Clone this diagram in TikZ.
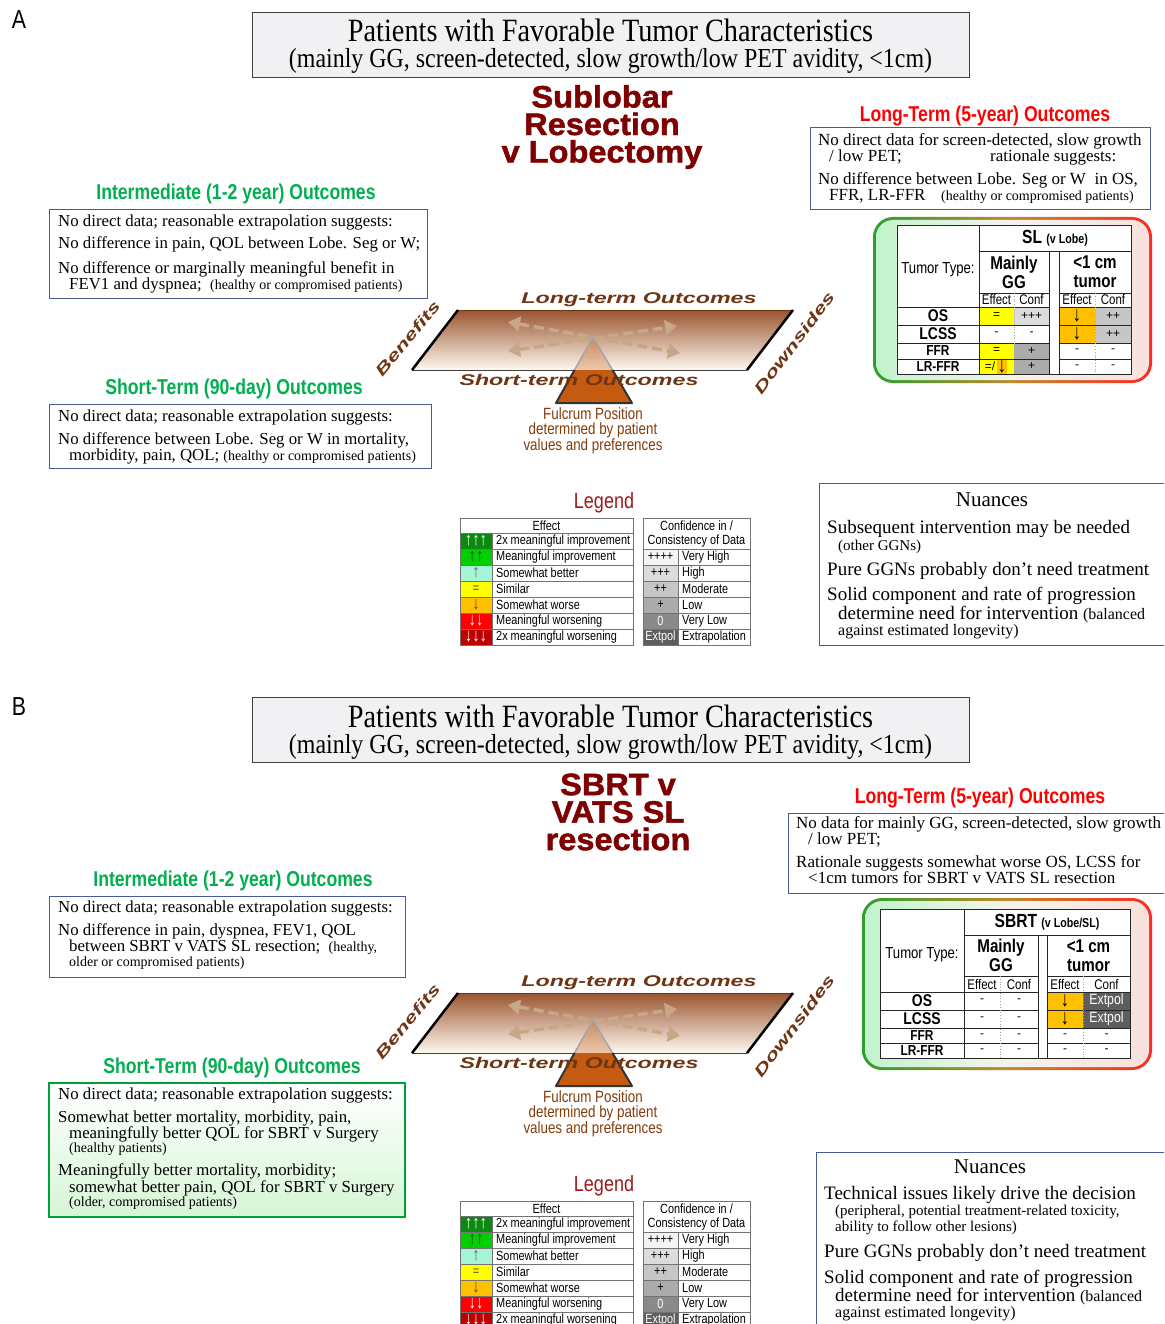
\documentclass[tikz,border=0pt]{standalone}
\usepackage{fontspec}
\setmainfont{Liberation Serif}
\newfontfamily\nsans[FakeStretch=0.82]{Liberation Sans}
\newfontfamily\wsans[FakeStretch=1.5]{Liberation Sans}
\newfontfamily\hsans[FakeBold=1.5,FakeStretch=1.05]{Liberation Sans}
\newfontfamily\asans{Liberation Sans}
\newfontfamily\cserif[FakeStretch=0.87]{Liberation Serif}
\usetikzlibrary{arrows.meta}
\newcommand\fsz[1]{\fontsize{#1}{#1}\selectfont}
\newcommand\smt[1]{{\fsz{14}#1}}
\definecolor{boxblue}{HTML}{4A5A98}
\definecolor{dred}{HTML}{7F0000}
\definecolor{hgreen}{HTML}{00B050}
\definecolor{hred}{HTML}{FF0000}
\definecolor{brownt}{HTML}{6E3514}
\definecolor{fulc}{HTML}{C55A11}
\definecolor{fultext}{HTML}{843C0C}
\definecolor{legred}{HTML}{9E1B1B}
\definecolor{plankt}{HTML}{9A5530}
\definecolor{plankm}{HTML}{EBC2A0}
\definecolor{plankb}{HTML}{FFF9F0}
\definecolor{arrc}{HTML}{C8A688}
\definecolor{titlefill}{HTML}{F1F1F3}
\definecolor{eA}{HTML}{0B8A12}
\definecolor{eB}{HTML}{00D000}
\definecolor{eC}{HTML}{A6F5D6}
\definecolor{eD}{HTML}{FFFF00}
\definecolor{eE}{HTML}{FFC000}
\definecolor{eF}{HTML}{FF0000}
\definecolor{eG}{HTML}{C00000}
\definecolor{cA}{HTML}{F4F4F4}
\definecolor{cB}{HTML}{DCDCDC}
\definecolor{cC}{HTML}{C6C6C6}
\definecolor{cD}{HTML}{ABABAB}
\definecolor{cE}{HTML}{8A8A8A}
\definecolor{cF}{HTML}{5E5E5E}
\definecolor{tgreen}{HTML}{2E9E2E}
\definecolor{tmid}{HTML}{C08A2A}
\definecolor{tred}{HTML}{FF2A20}
\definecolor{lgreen}{HTML}{C2F3CC}
\definecolor{lmid}{HTML}{F4F4EC}
\definecolor{lpink}{HTML}{F8E0DC}
\definecolor{sgreen}{HTML}{00A03C}
\definecolor{sfill}{HTML}{D6F5D6}
\tikzset{
 txt/.style={anchor=base west, inner sep=0pt, font=\fsz{17}},
 ctr/.style={anchor=center, inner sep=0pt},
 tbox/.style={draw=boxblue, line width=1pt},
 heading/.style={inner sep=0pt, font=\nsans\bfseries\fsz{21.5}},
 grid/.style={draw=black!85, line width=0.9pt},
 dotgrid/.style={draw=black!35, line width=0.8pt, dotted},
 lgrid/.style={draw=black!55, line width=0.8pt},
 ttxt/.style={inner sep=0pt, font=\nsans\fsz{13.3}},
 tarr/.style={inner sep=0pt, font=\nsans\fsz{18}},
 ltxt/.style={anchor=west, inner sep=0pt, font=\nsans\fsz{13.3}},
 ctxt/.style={inner sep=0pt, font=\asans\fsz{12}},
 carr/.style={inner sep=0pt, font=\nsans\fsz{21}},
 rlab/.style={inner sep=0pt, font=\nsans\bfseries\fsz{17}},
 rlabs/.style={inner sep=0pt, font=\nsans\bfseries\fsz{14.5}},
 sub/.style={inner sep=0pt, font=\nsans\fsz{14}},
 darr/.style={draw=arrc, line width=3.5pt, dash pattern=on 10pt off 5pt, {Triangle[length=12pt,width=15pt]}-{Triangle[length=12pt,width=15pt]}},
 seelab/.style={inner sep=0pt, text=brownt, font=\wsans\bfseries\itshape\fsz{15.5}},
}
\newcommand\txl[4][]{\node[txt,#1] (#2) at #3 {#4};}
\newcommand\gridtable{%
 \draw[grid] (\xa,\ya) rectangle (\xg,\yh);
 \draw[grid] (\xb,\ya) -- (\xb,\yh);
 \draw[grid] (\xb,\yb) -- (\xg,\yb);
 \draw[grid] (\xd,\yb) -- (\xd,\yh) (\xe,\yb) -- (\xe,\yh);
 \draw[grid] (\xb,\yc) -- (\xd,\yc) (\xe,\yc) -- (\xg,\yc);
 \foreach \rr in {\yd,\ye,\yf,\yg} {\draw[grid] (\xa,\rr) -- (\xd,\rr) (\xe,\rr) -- (\xg,\rr);}
 \draw[dotgrid] (\xc,\yc) -- (\xc,\yh) (\xf,\yc) -- (\xf,\yh);
}
\newcommand\seesaw[1]{%
 \shade[top color=plankt, middle color=plankm, bottom color=plankb] (458,310) -- (793,310) -- (747,370) -- (412,370) -- cycle;
 \draw[draw=brownt, line width=0.8pt] (458,310) -- (793,310);
 \draw[draw=black!75, line width=0.8pt] (412,370) -- (747,370);
 \draw[draw=black, line width=2.5pt] (458,310) -- (412,370) (793,310) -- (747,370);
 \draw[darr] (508,322) -- (680,353);
 \draw[darr] (508,351) -- (677,326);
 \fill[fulc, opacity=0.3] (593,337) -- (574.5,370) -- (612.5,370) -- cycle;
 \draw[draw=black!35, line width=1.5pt] (574.5,370) -- (593,337) -- (612.5,370);
 \fill[fulc] (574.5,370) -- (556,403) -- (632,403) -- (612.5,370) -- cycle;
 \draw[draw=black!80, line width=2pt, line join=round] (574.5,370) -- (556,403) -- (632,403) -- (612.5,370);
 \node[seelab] (#1lt) at (639,300) {Long-term Outcomes};
 \node[seelab] (#1st) at (579,380) {Short-term Outcomes};
 \node[seelab, rotate=50] (#1ben) at (407.5,338.5) {Benefits};
 \node[seelab, rotate=53] (#1down) at (794,343) {Downsides};
 \node[inner sep=0pt, align=center, text=fultext, font=\nsans\fontsize{16.3}{15}\selectfont] (#1ful) at (593,431) {Fulcrum Position\\determined by patient\\values and preferences};
}
\newcommand\legendtable[1]{%
 \node[inner sep=0pt, text=legred, font=\nsans\fsz{22}] (#1leg) at (604,503) {Legend};
 \fill[eA] (460,533) rectangle (492,549);
 \fill[eB] (460,549) rectangle (492,565);
 \fill[eC] (460,565) rectangle (492,581);
 \fill[eD] (460,581) rectangle (492,597);
 \fill[eE] (460,597) rectangle (492,613);
 \fill[eF] (460,613) rectangle (492,629);
 \fill[eG] (460,629) rectangle (492,645);
 \fill[cA] (643,549) rectangle (678,565);
 \fill[cB] (643,565) rectangle (678,581);
 \fill[cC] (643,581) rectangle (678,597);
 \fill[cD] (643,597) rectangle (678,613);
 \fill[cE] (643,613) rectangle (678,629);
 \fill[cF] (643,629) rectangle (678,645);
 \draw[lgrid] (460,518) rectangle (633,645);
 \draw[lgrid] (492,533) -- (492,645);
 \foreach \yy in {533,549,...,629} {\draw[lgrid] (460,\yy) -- (633,\yy);}
 \draw[lgrid] (643,518) rectangle (750,645);
 \draw[lgrid] (678,549) -- (678,645);
 \foreach \yy in {549,565,...,629} {\draw[lgrid] (643,\yy) -- (750,\yy);}
 \node[ttxt] (#1eh) at (546.5,525.5) {Effect};
 \node[ttxt] (#1ch1) at (696.5,526) {Confidence in /};
 \node[ttxt] (#1ch2) at (696.5,541) {Consistency of Data};
 \node[tarr, text=white] (#1s1) at (476,541) {↑↑↑};
 \node[tarr, text=black!80] (#1s2) at (476,557) {↑↑};
 \node[tarr, text=black!60] (#1s3) at (476,573) {↑};
 \node[ttxt, text=black!70] (#1s4) at (476,589) {=};
 \node[tarr, text=black!70] (#1s5) at (476,605) {↓};
 \node[tarr, text=white] (#1s6) at (476,621) {↓↓};
 \node[tarr, text=white] (#1s7) at (476,637) {↓↓↓};
 \node[ltxt] (#1t1) at (496,541) {2x meaningful improvement};
 \node[ltxt] (#1t2) at (496,557) {Meaningful improvement};
 \node[ltxt] (#1t3) at (496,573) {Somewhat better};
 \node[ltxt] (#1t4) at (496,589) {Similar};
 \node[ltxt] (#1t5) at (496,605) {Somewhat worse};
 \node[ltxt] (#1t6) at (496,621) {Meaningful worsening};
 \node[ltxt] (#1t7) at (496,637) {2x meaningful worsening};
 \node[ttxt] (#1c1) at (660.5,557) {++++};
 \node[ttxt] (#1c2) at (660.5,573) {+++};
 \node[ttxt] (#1c3) at (660.5,589) {++};
 \node[ttxt] (#1c4) at (660.5,605) {+};
 \node[ttxt, text=white] (#1c5) at (660.5,621) {0};
 \node[ttxt, text=white] (#1c6) at (660.5,637) {Extpol};
 \node[ltxt] (#1d1) at (682,557) {Very High};
 \node[ltxt] (#1d2) at (682,573) {High};
 \node[ltxt] (#1d3) at (682,589) {Moderate};
 \node[ltxt] (#1d4) at (682,605) {Low};
 \node[ltxt] (#1d5) at (682,621) {Very Low};
 \node[ltxt] (#1d6) at (682,637) {Extrapolation};
}
\begin{document}
\begin{tikzpicture}[x=1pt, y=-1pt]
\useasboundingbox (0,0) rectangle (1164,1324);
\clip (0,0) rectangle (1164,1324);
\fill[white] (0,0) rectangle (1164,1324);

% ================= PANEL A =================
\node[inner sep=0pt, font=\nsans\fsz{26}] (labA) at (19,20) {A};
\node[draw=black!75, fill=titlefill, line width=1pt, minimum width=717pt, minimum height=65pt, anchor=north west, inner sep=0pt] (titA) at (252,12) {};
\node[inner sep=0pt, font=\cserif\fsz{32.5}] (titA1) at (610.5,30) {Patients with Favorable Tumor Characteristics};
\node[inner sep=0pt, font=\cserif\fsz{27.5}] (titA2) at (610.5,61) {(mainly GG, screen-detected, slow growth/low PET avidity, <1cm)};
\node[inner sep=0pt, align=center, text=dred, font=\hsans\bfseries\fontsize{31}{27.5}\selectfont] (hA) at (602,127) {Sublobar\\Resection\\v Lobectomy};

\node[heading, text=hred] (ltA) at (985,116) {Long-Term (5-year) Outcomes};
\draw[tbox] (810,128) rectangle (1150,210);
\txl{lA1}{(818,146)}{No direct data for screen-detected, slow growth}
\txl{lA2}{(829,162)}{/ low PET;}
\txl{lA3}{(990,162)}{rationale suggests:}
\txl{lA4}{(818,185)}{No difference between Lobe. Seg or W\ \ in OS,}
\txl{lA5}{(829,201)}{FFR, LR-FFR}
\txl[font=\fsz{14}]{lA6}{(941,201)}{(healthy or compromised patients)}

\node[heading, text=hgreen] (itA) at (236,194) {Intermediate (1-2 year) Outcomes};
\draw[tbox] (49,210) rectangle (427,298);
\txl[font=\fsz{16.8}]{iA1}{(58,227)}{No direct data; reasonable extrapolation suggests:}
\txl[font=\fsz{16.8}]{iA2}{(58,249)}{No difference in pain, QOL between Lobe. Seg or W;}
\txl[font=\fsz{16.8}]{iA3}{(58,273)}{No difference or marginally meaningful benefit in}
\txl[font=\fsz{16.8}]{iA4}{(69,289)}{FEV1 and dyspnea;\ \ \smt{(healthy or compromised patients)}}

\node[heading, text=hgreen] (stA) at (234,389) {Short-Term (90-day) Outcomes};
\draw[tbox] (49,404) rectangle (431,468);
\txl[font=\fsz{16.8}]{sA1}{(58,421)}{No direct data; reasonable extrapolation suggests:}
\txl[font=\fsz{16.8}]{sA2}{(58,444)}{No difference between Lobe. Seg or W in mortality,}
\txl[font=\fsz{16.8}]{sA3}{(69,460)}{morbidity, pain, QOL; \smt{(healthy or compromised patients)}}

\seesaw{a}

% table A
\shade[rounded corners=20pt, left color=tgreen, right color=tred, middle color=tmid] (873,217) rectangle (1152,383);
\shade[rounded corners=17pt, left color=lgreen, right color=lpink, middle color=lmid] (876,220) rectangle (1149,380);
\fill[white] (897,225) rectangle (1131,374);
\fill[eD] (979,307) rectangle (1014,325);
\fill[cB] (1014,307) rectangle (1049,325);
\fill[eE] (1059,307) rectangle (1095,325);
\fill[cC] (1095,307) rectangle (1131,325);
\fill[eE] (1059,325) rectangle (1095,343);
\fill[cC] (1095,325) rectangle (1131,343);
\fill[eD] (979,343) rectangle (1014,359);
\fill[cD] (1014,343) rectangle (1049,359);
\fill[eD] (979,359) rectangle (1014,374);
\fill[cD] (1014,359) rectangle (1049,374);
\fill[eE] (997,360) rectangle (1007,374);
\def\xa{897}\def\xb{979}\def\xc{1014}\def\xd{1049}\def\xe{1059}\def\xf{1095}\def\xg{1131}
\def\ya{225}\def\yb{251}\def\yc{293}\def\yd{307}\def\ye{325}\def\yf{343}\def\yg{359}\def\yh{374}
\gridtable
\node[inner sep=0pt, font=\nsans\fsz{16}] (aTT) at (938,270) {Tumor Type:};
\node[inner sep=0pt, font=\nsans\bfseries\fsz{19}] (aSL) at (1055,238) {SL {\fsz{13}(v Lobe)}};
\node[inner sep=0pt, align=center, font=\nsans\bfseries\fontsize{18.5}{19}\selectfont] (aGG) at (1014,272) {Mainly\\GG};
\node[inner sep=0pt, align=center, font=\nsans\bfseries\fontsize{18.5}{19}\selectfont] (aCM) at (1095,272) {<1 cm\\tumor};
\node[sub] (aE1) at (996.5,300) {Effect};
\node[sub] (aC1) at (1031.5,300) {Conf};
\node[sub] (aE2) at (1077,300) {Effect};
\node[sub] (aC2) at (1113,300) {Conf};
\node[rlab] (aOS) at (938,316) {OS};
\node[rlab] (aLC) at (938,334) {LCSS};
\node[rlabs] (aFF) at (938,351) {FFR};
\node[rlabs] (aLR) at (938,366.5) {LR-FFR};
\node[ctxt] (a11) at (996.5,316) {=};
\node[ctxt] (a12) at (1031.5,316) {+++};
\node[carr] (a13) at (1077,316) {↓};
\node[ctxt] (a14) at (1113,316) {++};
\node[ctxt] (a21) at (996.5,334) {-};
\node[ctxt] (a22) at (1031.5,334) {-};
\node[carr] (a23) at (1077,334) {↓};
\node[ctxt] (a24) at (1113,334) {++};
\node[ctxt] (a31) at (996.5,351) {=};
\node[ctxt] (a32) at (1031.5,351) {+};
\node[ctxt] (a33) at (1077,351) {-};
\node[ctxt] (a34) at (1113,351) {-};
\node[ctxt] (a41) at (990,366.5) {=/};
\node[carr] (a41b) at (1002,366.5) {↓};
\node[ctxt] (a42) at (1031.5,366.5) {+};
\node[ctxt] (a43) at (1077,366.5) {-};
\node[ctxt] (a44) at (1113,366.5) {-};

\legendtable{a}

\draw[tbox] (819,483) rectangle (1175,645);
\node[inner sep=0pt, font=\fsz{21}] (nA0) at (992,500) {Nuances};
\txl[font=\fsz{19}]{nA1}{(827,533)}{Subsequent intervention may be needed}
\txl[font=\fsz{15}]{nA2}{(838,550)}{(other GGNs)}
\txl[font=\fsz{19}]{nA3}{(827,575)}{Pure GGNs probably don’t need treatment}
\txl[font=\fsz{19}]{nA4}{(827,600)}{Solid component and rate of progression}
\txl[font=\fsz{19}]{nA5}{(838,619)}{determine need for intervention {\fsz{16}(balanced}}
\txl[font=\fsz{16}]{nA6}{(838,635)}{against estimated longevity)}

% ================= PANEL B =================
\node[inner sep=0pt, font=\nsans\fsz{26}] (labB) at (19,707) {B};
\node[draw=black!75, fill=titlefill, line width=1pt, minimum width=717pt, minimum height=65pt, anchor=north west, inner sep=0pt] (titB) at (252,697) {};
\node[inner sep=0pt, font=\cserif\fsz{32.5}] (titB1) at (610.5,716) {Patients with Favorable Tumor Characteristics};
\node[inner sep=0pt, font=\cserif\fsz{27.5}] (titB2) at (610.5,747) {(mainly GG, screen-detected, slow growth/low PET avidity, <1cm)};
\node[inner sep=0pt, align=center, text=dred, font=\hsans\bfseries\fontsize{31}{27.5}\selectfont] (hB) at (618,812) {SBRT v\\VATS SL\\resection};

\node[heading, text=hred] (ltB) at (980,798) {Long-Term (5-year) Outcomes};
\draw[tbox] (788,813) rectangle (1175,893);
\txl{lB1}{(796,828)}{No data for mainly GG, screen-detected, slow growth}
\txl{lB2}{(808,844)}{/ low PET;}
\txl{lB3}{(796,867)}{Rationale suggests somewhat worse OS, LCSS for}
\txl{lB4}{(808,883)}{<1cm tumors for SBRT v VATS SL resection}

\node[heading, text=hgreen] (itB) at (233,881) {Intermediate (1-2 year) Outcomes};
\draw[tbox] (49,896) rectangle (405,977);
\txl[font=\fsz{16.8}]{iB1}{(58,912)}{No direct data; reasonable extrapolation suggests:}
\txl[font=\fsz{16.8}]{iB2}{(58,935)}{No difference in pain, dyspnea, FEV1, QOL}
\txl[font=\fsz{16.8}]{iB3}{(69,951)}{between SBRT v VATS SL resection;\ \ \smt{(healthy,}}
\txl[font=\fsz{14}]{iB4}{(69,966)}{older or compromised patients)}

\node[heading, text=hgreen] (stB) at (232,1068) {Short-Term (90-day) Outcomes};
\shade[top color=white, bottom color=sfill] (49,1083) rectangle (405,1217);
\draw[draw=sgreen, line width=2pt] (49,1083) rectangle (405,1217);
\txl[font=\fsz{16.8}]{sB1}{(58,1099)}{No direct data; reasonable extrapolation suggests:}
\txl[font=\fsz{16.8}]{sB2}{(58,1122)}{Somewhat better mortality, morbidity, pain,}
\txl[font=\fsz{16.8}]{sB3}{(69,1138)}{meaningfully better QOL for SBRT v Surgery}
\txl[font=\fsz{14}]{sB4}{(69,1152)}{(healthy patients)}
\txl[font=\fsz{16.8}]{sB5}{(58,1175)}{Meaningfully better mortality, morbidity;}
\txl[font=\fsz{16.8}]{sB6}{(69,1192)}{somewhat better pain, QOL for SBRT v Surgery}
\txl[font=\fsz{14}]{sB7}{(69,1206)}{(older, compromised patients)}

\begin{scope}[yshift=-683pt]
\seesaw{b}
\legendtable{b}
\end{scope}

% table B
\shade[rounded corners=20pt, left color=tgreen, right color=tred, middle color=tmid] (862,898) rectangle (1152,1070);
\shade[rounded corners=17pt, left color=lgreen, right color=lpink, middle color=lmid] (865,901) rectangle (1149,1067);
\fill[white] (880,909) rectangle (1130,1058);
\fill[eE] (1047,992) rectangle (1083,1010);
\fill[cF] (1083,992) rectangle (1130,1010);
\fill[eE] (1047,1010) rectangle (1083,1028);
\fill[cF] (1083,1010) rectangle (1130,1028);
\def\xa{880}\def\xb{964}\def\xc{1000}\def\xd{1038}\def\xe{1047}\def\xf{1083}\def\xg{1130}
\def\ya{909}\def\yb{935}\def\yc{976}\def\yd{992}\def\ye{1010}\def\yf{1028}\def\yg{1043}\def\yh{1058}
\gridtable
\node[inner sep=0pt, font=\nsans\fsz{16}] (bTT) at (922,955) {Tumor Type:};
\node[inner sep=0pt, font=\nsans\bfseries\fsz{19}] (bSL) at (1047,922) {SBRT {\fsz{13}(v Lobe/SL)}};
\node[inner sep=0pt, align=center, font=\nsans\bfseries\fontsize{18.5}{19}\selectfont] (bGG) at (1001,955.5) {Mainly\\GG};
\node[inner sep=0pt, align=center, font=\nsans\bfseries\fontsize{18.5}{19}\selectfont] (bCM) at (1088.5,955.5) {<1 cm\\tumor};
\node[sub] (bE1) at (982,984) {Effect};
\node[sub] (bC1) at (1019,984) {Conf};
\node[sub] (bE2) at (1065,984) {Effect};
\node[sub] (bC2) at (1106.5,984) {Conf};
\node[rlab] (bOS) at (922,1001) {OS};
\node[rlab] (bLC) at (922,1019) {LCSS};
\node[rlabs] (bFF) at (922,1035.5) {FFR};
\node[rlabs] (bLR) at (922,1050.5) {LR-FFR};
\node[ctxt] (b11) at (982,1001) {-};
\node[ctxt] (b12) at (1019,1001) {-};
\node[carr] (b13) at (1065,1001) {↓};
\node[inner sep=0pt, text=white, font=\nsans\fsz{15}] (b14) at (1106.5,1001) {Extpol};
\node[ctxt] (b21) at (982,1019) {-};
\node[ctxt] (b22) at (1019,1019) {-};
\node[carr] (b23) at (1065,1019) {↓};
\node[inner sep=0pt, text=white, font=\nsans\fsz{15}] (b24) at (1106.5,1019) {Extpol};
\node[ctxt] (b31) at (982,1035.5) {-};
\node[ctxt] (b32) at (1019,1035.5) {-};
\node[ctxt] (b33) at (1065,1035.5) {-};
\node[ctxt] (b34) at (1106.5,1035.5) {-};
\node[ctxt] (b41) at (982,1050.5) {-};
\node[ctxt] (b42) at (1019,1050.5) {-};
\node[ctxt] (b43) at (1065,1050.5) {-};
\node[ctxt] (b44) at (1106.5,1050.5) {-};

\draw[tbox] (816,1152) rectangle (1175,1340);
\node[inner sep=0pt, font=\fsz{21}] (nB0) at (990,1167) {Nuances};
\txl[font=\fsz{19}]{nB1}{(824,1199)}{Technical issues likely drive the decision}
\txl[font=\fsz{15}]{nB2}{(835,1215)}{(peripheral, potential treatment-related toxicity,}
\txl[font=\fsz{15}]{nB3}{(835,1231)}{ability to follow other lesions)}
\txl[font=\fsz{19}]{nB4}{(824,1257)}{Pure GGNs probably don’t need treatment}
\txl[font=\fsz{19}]{nB5}{(824,1283)}{Solid component and rate of progression}
\txl[font=\fsz{19}]{nB6}{(835,1301)}{determine need for intervention {\fsz{16}(balanced}}
\txl[font=\fsz{16}]{nB7}{(835,1317)}{against estimated longevity)}
\end{tikzpicture}
\end{document}
